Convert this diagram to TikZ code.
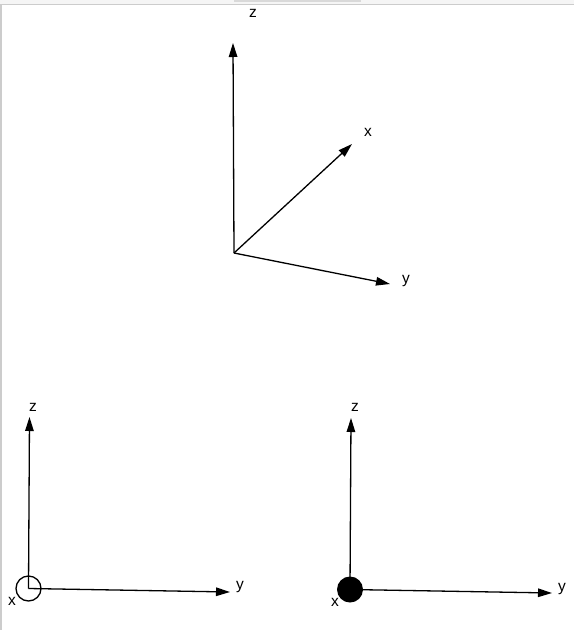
\documentclass[tikz,border=0pt]{standalone}
\usepackage{fontspec}
\setmainfont{Liberation Sans}
\usetikzlibrary{arrows.meta}
\begin{document}
\begin{tikzpicture}[x=1pt,y=-1pt,
  axis/.style={line width=1.3pt,-{Triangle[length=14pt,width=8.5pt]}},
  lbl/.style={font=\fontsize{15.5}{17}\selectfont,inner sep=0pt,anchor=center},
  frameline/.style={draw=black!20,line width=1.5pt}]
\useasboundingbox (0,0) rectangle (574,630);
\fill[black!4] (0,0) rectangle (574,3.5);
\fill[black!15] (234,0) rectangle (361,1.5);
\draw[frameline] (0,4.5) -- (574,4.5);
\draw[frameline] (1,4.5) -- (1,630);
% top 3D axes
\coordinate (o1) at (234,253);
\coordinate (z1) at (233,43);
\coordinate (x1) at (352,144);
\coordinate (y1) at (390,284);
\draw[axis] (o1) -- (z1);
\draw[axis] (o1) -- (x1);
\draw[axis] (o1) -- (y1);
\node[lbl] (lz1) at (253,13) {z};
\node[lbl] (lx1) at (368,132) {x};
\node[lbl] (ly1) at (406,281) {y};
% bottom left (open circle)
\node[circle,draw,line width=1.3pt,minimum size=25pt,inner sep=0pt] (c2) at (28.5,588.5) {};
\coordinate (z2) at (29.5,417);
\coordinate (y2) at (230,592);
\draw[axis] (c2.center) -- (z2);
\draw[axis] (c2.center) -- (y2);
\node[lbl] (lz2) at (33,407) {z};
\node[lbl] (ly2) at (240,587) {y};
\node[lbl] (lx2) at (12,601) {x};
% bottom right (filled dot)
\node[circle,fill,minimum size=26pt,inner sep=0pt] (c3) at (350,589.5) {};
\coordinate (z3) at (351,418);
\coordinate (y3) at (552,593);
\draw[axis] (c3.center) -- (z3);
\draw[axis] (c3.center) -- (y3);
\node[lbl] (lz3) at (355,407) {z};
\node[lbl] (ly3) at (562,589) {y};
\node[lbl] (lx3) at (335,602) {x};
\end{tikzpicture}
\end{document}
